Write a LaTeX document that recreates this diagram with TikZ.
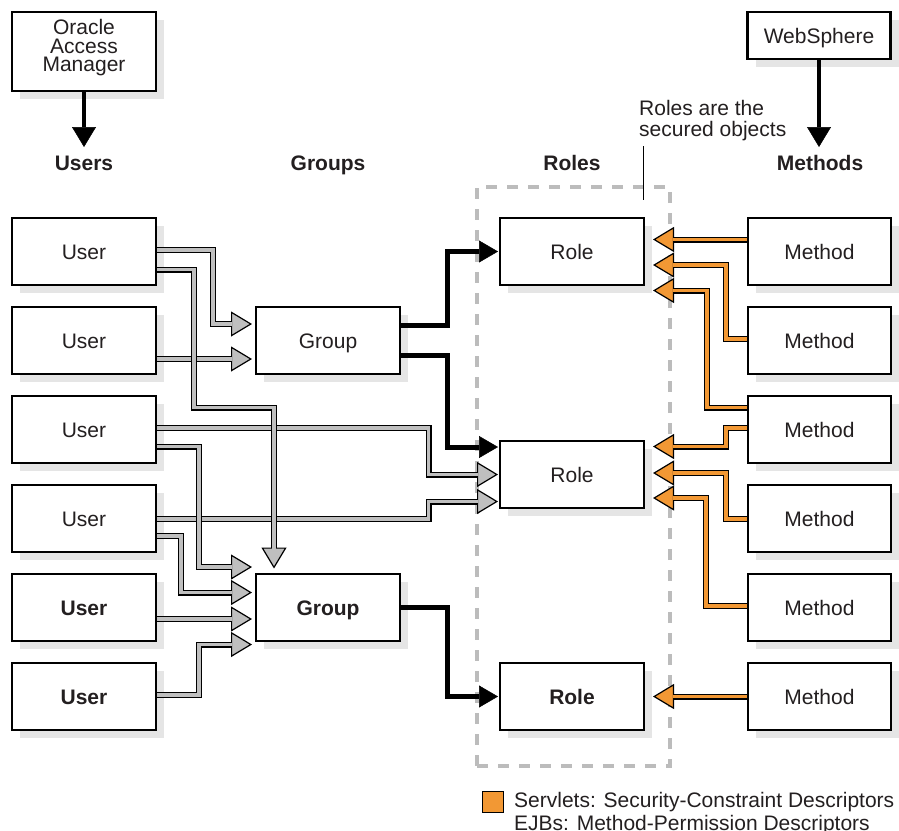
\documentclass[tikz,border=0pt]{standalone}
\usepackage{fontspec}
\setmainfont{Liberation Sans}
\usetikzlibrary{arrows.meta,calc,shadows}
\definecolor{flowgray}{RGB}{191,191,191}
\definecolor{servletorange}{RGB}{242,152,52}
\definecolor{boxshadow}{RGB}{229,229,229}
\definecolor{zonegray}{RGB}{188,188,188}
\definecolor{ink}{RGB}{35,31,32}

\begin{document}
\begin{tikzpicture}[x=1pt,y=-1pt,
  txt/.style={font=\fontsize{21}{25}\selectfont, text=ink},
  box/.style={draw=black, fill=white, line width=2.6pt, inner sep=0pt, outer sep=0pt,
    minimum width=144pt, minimum height=67pt, txt,
    drop shadow={shadow xshift=8pt, shadow yshift=-8pt, fill=boxshadow, opacity=1}},
  capbox/.style={box, text height=15pt, text depth=0pt},
  heading/.style={anchor=base, text=ink, font=\fontsize{21}{25}\selectfont\bfseries},
  grayflow/.style={draw=black, line width=6pt, shorten <=1.3pt, shorten >=#1pt,
    -{Triangle[length=21pt,width=25pt,line width=1.2pt,fill=flowgray]},
    postaction={draw=flowgray, line width=3.6pt, -, shorten <=1.3pt, shorten >=#1pt+19.6pt}},
  orangeflow/.style={draw=black, line width=6pt, shorten <=1.3pt, shorten >=#1pt,
    -{Triangle[length=21pt,width=25pt,line width=1.2pt,fill=servletorange]},
    postaction={draw=servletorange, line width=3.6pt, -, shorten <=1.3pt, shorten >=#1pt+19.6pt}},
  blackflow/.style={draw=black, line width=5pt, shorten <=1.3pt, shorten >=#1pt,
    -{Triangle[length=19pt,width=22pt,line width=0.5pt]}},
  sourceflow/.style={draw=black, line width=4.5pt, shorten <=1.3pt,
    -{Triangle[length=20pt,width=24pt,line width=0.5pt]}},
  zone/.style={draw=zonegray, line width=4pt, dash pattern=on 11pt off 10pt,
    minimum width=193pt, minimum height=579pt, inner sep=0pt, outer sep=0pt}
]
\useasboundingbox (0,0) rectangle (899,830);

% secured-objects region around the roles
\node[zone] (zone) at (573.5,476.5) {};

% sources
\node[box, minimum height=79pt, align=center, text depth=12pt,
  font=\fontsize{21}{18.4}\selectfont] (oam) at (84,51.5) {Oracle\\Access\\Manager};
\node[capbox, minimum width=143pt, minimum height=47pt] (ws) at (819,35.5) {WebSphere};

% column headings
\node[heading] (usershd) at (84,170) {Users};
\node[heading] (groupshd) at (328,170) {Groups};
\node[heading] (roleshd) at (572,170) {Roles};
\node[heading] (methodshd) at (820,170) {Methods};

% note on the secured objects
\node[txt, anchor=north west, align=left, inner sep=0pt,
  font=\fontsize{21}{21}\selectfont] (note) at (639,100) {Roles are the\\secured objects};
\coordinate (leadtop) at (643.5,146);
\coordinate (leadbot) at (643.5,200);
\draw[line width=1pt] (leadtop) -- (leadbot);

% users
\node[capbox] (u1) at (84,251.5) {User};
\node[capbox] (u2) at (84,340.5) {User};
\node[capbox] (u3) at (84,429.5) {User};
\node[capbox] (u4) at (84,518.5) {User};
\node[capbox] (u5) at (84,607.5) {\bfseries User};
\node[capbox] (u6) at (84,696.5) {\bfseries User};

% groups
\node[capbox] (g1) at (328,340.5) {Group};
\node[capbox] (g2) at (328,607.5) {\bfseries Group};

% roles
\node[capbox] (r1) at (572,251.5) {Role};
\node[capbox] (r2) at (572,474.5) {Role};
\node[capbox] (r3) at (572,696.5) {\bfseries Role};

% methods
\node[capbox, minimum width=143pt] (m1) at (819.5,251.5) {Method};
\node[capbox, minimum width=143pt] (m2) at (819.5,340.5) {Method};
\node[capbox, minimum width=143pt] (m3) at (819.5,429.5) {Method};
\node[capbox, minimum width=143pt] (m4) at (819.5,518.5) {Method};
\node[capbox, minimum width=143pt] (m5) at (819.5,607.5) {Method};
\node[capbox, minimum width=143pt] (m6) at (819.5,696.5) {Method};

% sources feed the outer columns
\coordinate (usershead) at (84,147);
\coordinate (methodshead) at (819,147);
\draw[sourceflow] (oam.south) -- (usershead);
\draw[sourceflow] (ws.south) -- (methodshead);

% user to group / role memberships (horizontal runs first, crossings on top)
\draw[grayflow=4] ($(u2.east)+(0,18.5)$) -- ($(g1.west)+(0,18.5)$);
\draw[grayflow=2] ($(u3.east)+(0,-1.5)$) -- ++(272.5,0) |- (r2.west);
\draw[grayflow=2] ($(u4.east)+(0,0.5)$) -- ++(272.5,0) |- ($(r2.west)+(0,27)$);
\draw[grayflow=4] ($(u4.east)+(0,17.5)$) -- ++(25,0) |- ($(g2.west)+(0,-15)$);
\draw[grayflow=4] ($(u5.east)+(0,11.5)$) -- ($(g2.west)+(0,11.5)$);
\draw[grayflow=4] ($(u6.east)+(0,-1.5)$) -- ++(43,0) |- ($(g2.west)+(0,37)$);
\draw[grayflow=4] ($(u1.east)+(0,-1.5)$) -- ++(57,0) |- ($(g1.west)+(0,-16.5)$);
\draw[grayflow=4] ($(u3.east)+(0,17)$) -- ++(43,0) |- ($(g2.west)+(0,-40.5)$);
\draw[grayflow=5.5] ($(u1.east)+(0,18)$) -- ++(38,0) |- ($(g2.north)+(-54,-166.5)$)
  -- ($(g2.north)+(-54,0)$);

% groups granted roles
\draw[blackflow=2] ($(g1.east)+(0,-15.5)$) -- ++(47,0) |- (r1.west);
\draw[blackflow=2] ($(g1.east)+(0,14.5)$) -- ++(47,0) |- ($(r2.west)+(0,-27.5)$);
\draw[blackflow=2] ($(g2.east)+(0,-0.5)$) -- ++(47,0) |- (r3.west);

% methods secured by roles
\draw[orangeflow=9] ($(m1.west)+(0,-12)$) -- ($(r1.east)+(0,-12)$);
\draw[orangeflow=9] ($(m2.west)+(0,-1.5)$) -- ++(-22,0) |- ($(r1.east)+(0,13.5)$);
\draw[orangeflow=9] ($(m3.west)+(0,-22)$) -- ++(-41,0) |- ($(r1.east)+(0,39)$);
\draw[orangeflow=9] ($(m3.west)+(0,-1.5)$) -- ++(-22,0) |- ($(r2.east)+(0,-28)$);
\draw[orangeflow=9] ($(m4.west)+(0,0.5)$) -- ++(-22,0) |- ($(r2.east)+(0,-1.5)$);
\draw[orangeflow=9] ($(m5.west)+(0,-1.5)$) -- ++(-42,0) |- ($(r2.east)+(0,23.5)$);
\draw[orangeflow=9] (m6.west) -- (r3.east);

% legend
\node[draw=black, line width=0.8pt, fill=servletorange, minimum size=21pt,
  inner sep=0pt, outer sep=0pt] (legendkey) at (492.5,801.5) {};
\node[anchor=north west, align=left, inner sep=0pt, text=ink,
  font=\fontsize{21}{23.5}\selectfont] (legendtext) at (514,792)
  {Servlets: Security-Constraint Descriptors\\EJBs: Method-Permission Descriptors};
\end{tikzpicture}
\end{document}
